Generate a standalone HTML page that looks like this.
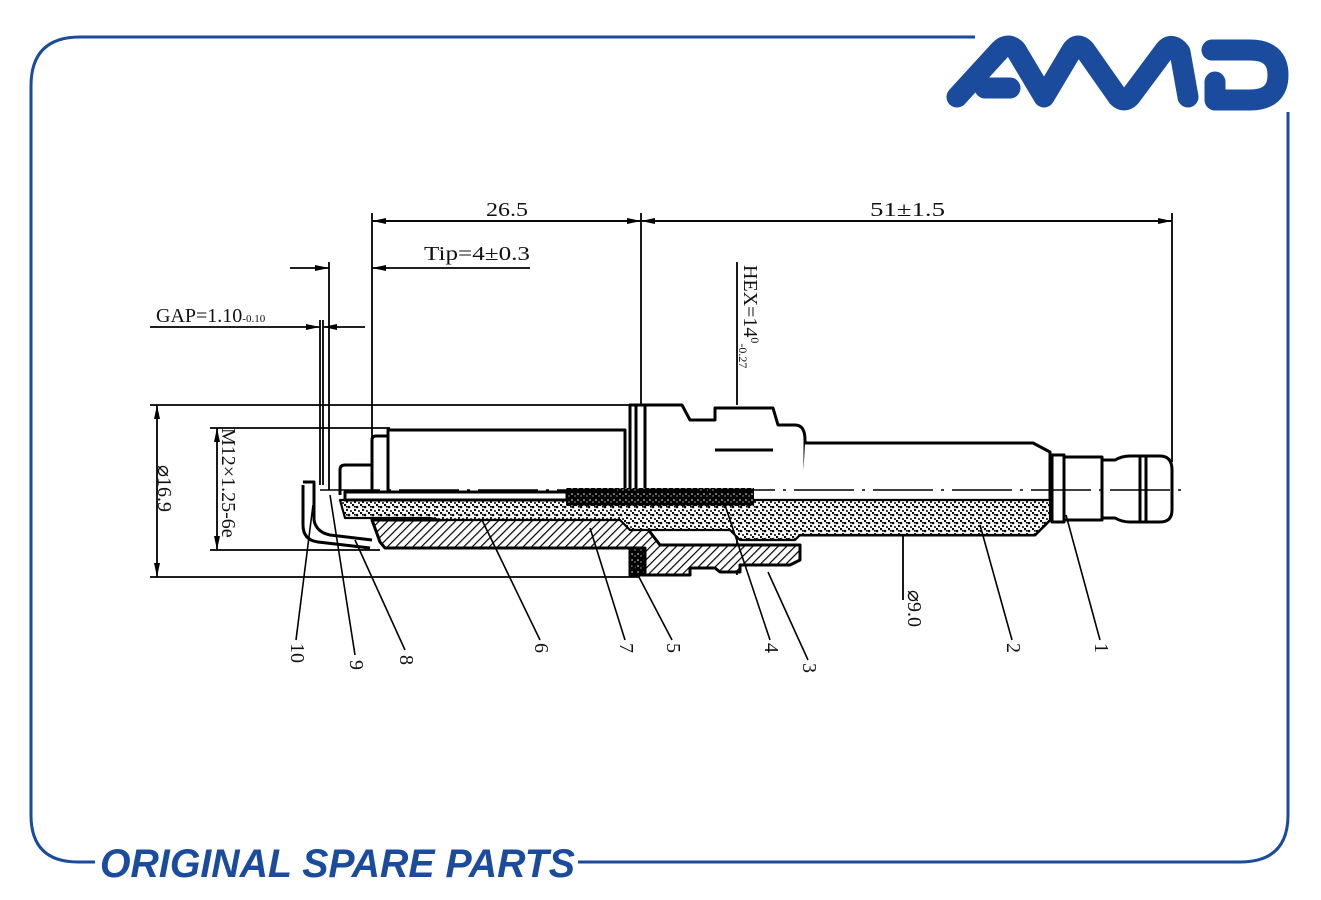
<!DOCTYPE html>
<html><head><meta charset="utf-8"><style>
html,body{margin:0;padding:0;background:#fff;width:1321px;height:900px;overflow:hidden}
svg{display:block}
.t{font-family:"Liberation Serif","Noto Serif CJK SC",serif;font-size:20px;fill:#111}
</style></head><body>
<svg width="1321" height="900" viewBox="0 0 1321 900" xmlns="http://www.w3.org/2000/svg">
<defs>
<pattern id="hatch" width="6" height="6" patternUnits="userSpaceOnUse" patternTransform="rotate(45)">
<rect width="6" height="6" fill="#fff"/><line x1="0" y1="0" x2="0" y2="6" stroke="#000" stroke-width="2.4"/></pattern>
<pattern id="dots" width="8" height="8" patternUnits="userSpaceOnUse">
<rect width="8" height="8" fill="#fff"/><circle cx="1" cy="1" r="1.2" fill="#000"/><circle cx="5" cy="3" r="1.3" fill="#000"/><circle cx="3" cy="6" r="1.1" fill="#000"/><circle cx="7" cy="7" r="1" fill="#000"/><rect x="2" y="2" width="1.6" height="1.6" fill="#000"/></pattern>
<pattern id="dark" width="6" height="6" patternUnits="userSpaceOnUse">
<rect width="6" height="6" fill="#000"/><circle cx="2" cy="2" r="0.8" fill="#fff"/><circle cx="5" cy="4" r="0.6" fill="#fff"/></pattern>
<marker id="ar" viewBox="0 0 14 6" refX="14" refY="3" markerWidth="14" markerHeight="6" orient="auto" markerUnits="userSpaceOnUse"><path d="M0,0 L14,3 L0,6 Z" fill="#000"/></marker>
</defs>
<g fill="none" stroke="#1a4b9c" stroke-width="3">
<path d="M975,37 H80 Q31,37 31,86 V815 Q31,862 78,862 H95"/>
<path d="M578,862 H1240 Q1288,862 1288,815 V112"/>
</g>
<g fill="none" stroke="#1a4b9c" stroke-width="21" stroke-linecap="round" stroke-linejoin="round">
<path d="M957,97 L1000,50 Q1008,42 1016,50 L1044,97 L1072,50 Q1078,42 1085,50 L1118,97 Q1124,103 1130,97 L1165,50 Q1172,42 1180,52 L1188,97"/>
<path d="M985,88 H1010"/>
<path d="M1212,50 H1250 Q1278,50 1278,75 Q1278,100 1250,100 H1215 V82"/>
</g>
<text x="100" y="877" font-family="Liberation Sans,sans-serif" font-weight="bold" font-style="italic" font-size="40" fill="#1a4b9c" textLength="475" lengthAdjust="spacingAndGlyphs">ORIGINAL SPARE PARTS</text>

<g stroke="#000" stroke-width="1.8" fill="none">
<line x1="372" y1="213" x2="372" y2="440"/>
<line x1="641" y1="213" x2="641" y2="405"/>
<line x1="1172" y1="213" x2="1172" y2="462"/>
<line x1="641" y1="221" x2="372" y2="221" marker-end="url(#ar)"/>
<line x1="372" y1="221" x2="641" y2="221" marker-end="url(#ar)"/>
<line x1="1172" y1="221" x2="641" y2="221" marker-end="url(#ar)"/>
<line x1="641" y1="221" x2="1172" y2="221" marker-end="url(#ar)"/>
<line x1="329" y1="262" x2="329" y2="490"/>
<line x1="290" y1="268" x2="329" y2="268" marker-end="url(#ar)"/>
<line x1="530" y1="268" x2="372" y2="268" marker-end="url(#ar)"/>
<line x1="320" y1="320" x2="320" y2="485"/>
<line x1="323" y1="320" x2="323" y2="485"/>
<line x1="150" y1="327" x2="320" y2="327" marker-end="url(#ar)"/>
<line x1="365" y1="327" x2="323" y2="327" marker-end="url(#ar)"/>
<line x1="150" y1="405" x2="630" y2="405"/>
<line x1="150" y1="577" x2="640" y2="577"/>
<line x1="157" y1="490" x2="157" y2="405" marker-end="url(#ar)"/>
<line x1="157" y1="490" x2="157" y2="577" marker-end="url(#ar)"/>
<line x1="210" y1="428" x2="390" y2="428"/>
<line x1="210" y1="550" x2="380" y2="550"/>
<line x1="217" y1="490" x2="217" y2="428" marker-end="url(#ar)"/>
<line x1="217" y1="490" x2="217" y2="550" marker-end="url(#ar)"/>
<line x1="737" y1="575" x2="737" y2="410" marker-end="url(#ar)"/>
<line x1="737" y1="262" x2="737" y2="405"/>
<line x1="903" y1="600" x2="903" y2="443" marker-end="url(#ar)"/>
</g>
<text class="t" x="486" y="216" textLength="42" lengthAdjust="spacingAndGlyphs">26.5</text>
<text class="t" x="870" y="216" textLength="75" lengthAdjust="spacingAndGlyphs">51±1.5</text>
<text class="t" x="424" y="260" textLength="106" lengthAdjust="spacingAndGlyphs">Tip=4±0.3</text>
<text class="t" x="156" y="322" font-size="18">GAP=1.10<tspan font-size="11">-0.10</tspan></text>
<text class="t" transform="translate(158,465) rotate(90)">⌀16.9</text>
<text class="t" transform="translate(222,428) rotate(90)" font-size="18">M12×1.25-6e</text>
<text class="t" transform="translate(744,265) rotate(90)" font-size="18">HEX=14<tspan dy="-7" font-size="12">0</tspan><tspan dy="12" font-size="12">-0.27</tspan></text>
<text class="t" transform="translate(908,590) rotate(90)">⌀9.0</text>
<g font-size="16">
<text class="t" font-size="16" transform="translate(291,643) rotate(90)">10</text>
<text class="t" font-size="16" transform="translate(350,660) rotate(90)">9</text>
<text class="t" font-size="16" transform="translate(400,655) rotate(90)">8</text>
<text class="t" font-size="16" transform="translate(535,643) rotate(90)">6</text>
<text class="t" font-size="16" transform="translate(620,643) rotate(90)">7</text>
<text class="t" font-size="16" transform="translate(667,643) rotate(90)">5</text>
<text class="t" font-size="16" transform="translate(765,643) rotate(90)">4</text>
<text class="t" font-size="16" transform="translate(803,663) rotate(90)">3</text>
<text class="t" font-size="16" transform="translate(1007,643) rotate(90)">2</text>
<text class="t" font-size="16" transform="translate(1095,643) rotate(90)">1</text>
</g>

<g stroke="#000" stroke-width="3" fill="#fff" stroke-linejoin="round">
<path d="M372,520 H440 L455,519 H640 L660,545 H800 V560 L790,565 H740 V572 H720 L715,568 H690 V575 H640 V548 H385 L380,542 Z" fill="url(#hatch)"/>
<rect x="630" y="548" width="15" height="27" fill="url(#dark)"/>
<path d="M372,500 V440 Q372,436 376,436 H388 V430 H625 V500" />
<path d="M340,495 V470 Q340,465 345,465 H372"/>
<line x1="388" y1="436" x2="388" y2="500"/>
<path d="M630,500 V405 H682 L690,420 H715 V408 H773 L778,425 H795 Q805,425 805,440 V500"/>
<line x1="636" y1="405" x2="636" y2="500"/>
<line x1="645" y1="405" x2="645" y2="500"/>
<line x1="715" y1="450" x2="773" y2="450"/>
<path d="M805,443 H1033 L1050,452 V520 L1035,535 H800"/>
<path d="M340,500 H1050 V520 L1035,535 H800 L795,540 H740 L730,530 H630 L620,520 H440 L430,518 H345 Z" fill="url(#dots)" stroke-width="2.2"/>
<rect x="566" y="488" width="188" height="18" fill="url(#dark)" stroke="none"/>
<rect x="345" y="492" width="222" height="8"/>
<rect x="1052" y="455" width="12" height="67"/>
<rect x="1064" y="457" width="38" height="63"/>
<path d="M1102,460 H1115 Q1122,456 1130,456 H1160 Q1172,456 1172,470 V510 Q1172,522 1160,522 H1130 Q1122,522 1115,518 H1102 Z"/>
<line x1="1140" y1="456" x2="1140" y2="522"/><line x1="1146" y1="456" x2="1146" y2="522"/>
<path d="M303,485 V525 Q303,540 318,542 L370,548" fill="none"/>
<path d="M303,482 H314 V520 Q316,532 330,535 L372,540" fill="none"/>
</g>
<line x1="320" y1="490" x2="1185" y2="490" stroke="#000" stroke-width="1.6" stroke-dasharray="60,8,3,8"/>
<g stroke="#000" stroke-width="1.6">
<line x1="296" y1="640" x2="313" y2="505"/>
<line x1="355" y1="655" x2="330" y2="495"/>
<line x1="405" y1="650" x2="355" y2="540"/>
<line x1="540" y1="640" x2="482" y2="520"/>
<line x1="625" y1="640" x2="590" y2="528"/>
<line x1="672" y1="640" x2="630" y2="560"/>
<line x1="770" y1="640" x2="725" y2="505"/>
<line x1="808" y1="660" x2="768" y2="572"/>
<line x1="1012" y1="640" x2="980" y2="525"/>
<line x1="1100" y1="640" x2="1066" y2="515"/>
</g>
</svg>
</body></html>
